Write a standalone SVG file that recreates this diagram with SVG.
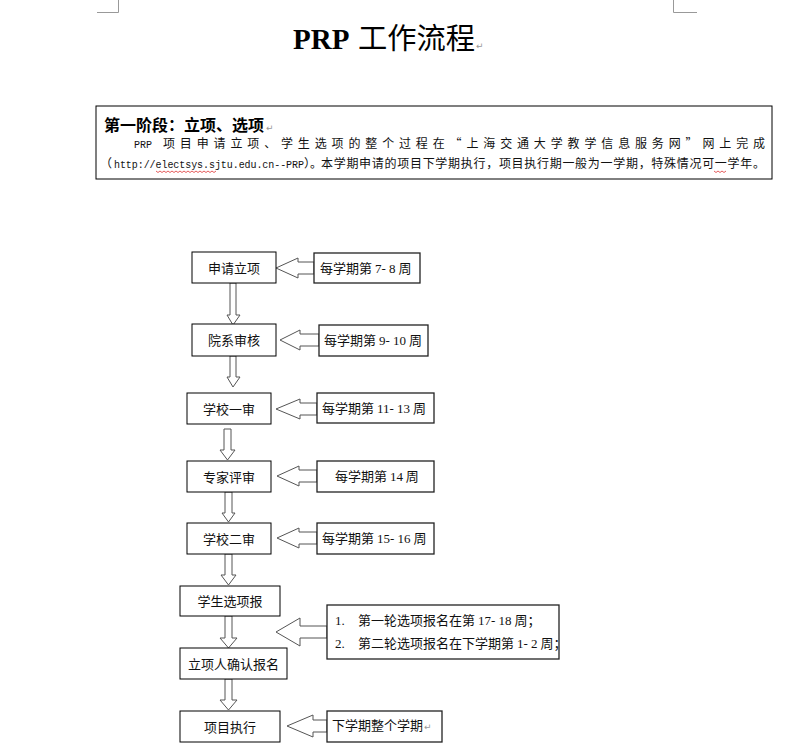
<svg xmlns="http://www.w3.org/2000/svg" width="794" height="753" viewBox="0 0 794 753">
<style>
.box{fill:#fff;stroke:#000;stroke-width:1}
.cbox{fill:#fff;stroke:#222;stroke-width:1.3}
.arr{fill:#fff;stroke:#555;stroke-width:1;stroke-linejoin:miter}
.t{font-family:"Noto Sans CJK SC","Noto Sans",sans-serif;font-size:13px;fill:#111}
.n{font-family:"Liberation Serif",serif;font-size:13px}
.p{font-family:"Noto Sans CJK SC",sans-serif;font-size:12px;fill:#111}
.m{font-family:"Liberation Mono",monospace;font-size:10px;fill:#111}
.pm{font-family:"DejaVu Sans",sans-serif;font-size:9px;fill:#999}
.crop{fill:none;stroke:#999;stroke-width:1}
.wave{fill:none;stroke:#d33;stroke-width:0.8}
</style>
<rect width="794" height="753" fill="#fff"/>
<path class="crop" d="M97,12.5 H118.5 V0"/>
<path class="crop" d="M673.5,0 V12.5 H697"/>

<g id="title">
<text x="293" y="49" style="font-family:'Liberation Serif',serif;font-size:29px;font-weight:bold;fill:#000">PRP</text>
<text x="358" y="49" textLength="117" lengthAdjust="spacingAndGlyphs" style="font-family:'Noto Sans CJK SC',sans-serif;font-size:29px;fill:#000">工作流程</text>
<text class="pm" x="476" y="49">↵</text>
</g>

<g id="intro">
<rect x="96" y="106" width="676" height="73" fill="#fff" stroke="#000" stroke-width="1"/>
<text x="104" y="131" style="font-family:'Noto Sans CJK SC',sans-serif;font-size:16px;font-weight:bold;fill:#000">第一阶段：立项、选项</text>
<text class="pm" x="266" y="131">↵</text>
<text class="m" x="134" y="148">PRP</text>
<text class="p" x="163" y="148" textLength="602" lengthAdjust="spacing">项目申请立项、学生选项的整个过程在“上海交通大学教学信息服务网”网上完成</text>
<text class="p" x="100" y="168">（</text>
<text class="m" x="114" y="168" textLength="190" lengthAdjust="spacing">http://electsys.sjtu.edu.cn--PRP</text>
<text class="p" x="304" y="168">）。</text>
<text class="p" x="321" y="168" textLength="444" lengthAdjust="spacing">本学期申请的项目下学期执行，项目执行期一般为一学期，特殊情况可一学年。</text>
<path class="wave" d="M156,171 l2,1.5 l2,-1.5 l2,1.5 l2,-1.5 l2,1.5 l2,-1.5 l2,1.5 l2,-1.5 l2,1.5 l2,-1.5 l2,1.5 l2,-1.5 l2,1.5 l2,-1.5 l2,1.5 l2,-1.5 l2,1.5 l2,-1.5 l2,1.5 l2,-1.5 l2,1.5 l2,-1.5 l2,1.5 l2,-1.5 l2,1.5 l2,-1.5 l2,1.5 l2,-1.5 l2,1.5 l2,-1.5"/>
<path class="wave" d="M714,171 l2,1.5 l2,-1.5 l2,1.5 l2,-1.5 l2,1.5 l2,-1.5"/>
</g>

<g id="connectors">
<path class="arr" d="M230,283 V315 H227 L233,325 L240,315 H236 V283 Z"/>
<path class="arr" d="M230,356 V377 H227 L233,387 L240,377 H236 V356 Z"/>
<path class="arr" d="M224,429 V450 H220 L227.5,460 L235,450 H231 V429 Z"/>
<path class="arr" d="M225,492 V513 H222 L228.5,522 L235,513 H232 V492 Z"/>
<path class="arr" d="M225,554 V575 H221 L228.5,585 L236,575 H232 V554 Z"/>
<path class="arr" d="M225,616 V638 H220 L228.5,648 L237,638 H232 V616 Z"/>
<path class="arr" d="M225,679 V700 H220 L228.5,710 L237,700 H232 V679 Z"/>

<path class="arr" d="M276,268 L298,258 V262 H314 V274 H298 V278 Z"/>
<path class="arr" d="M280,340 L300,330 V334 H319 V346 H300 V350 Z"/>
<path class="arr" d="M276,409 L300,399 V403 H317 V415 H300 V419 Z"/>
<path class="arr" d="M277,476 L299,466 V470 H317 V482 H299 V486 Z"/>
<path class="arr" d="M277,538 L299,528 V532 H317 V544 H299 V548 Z"/>
<path class="arr" d="M276,632 L300,618 V626 H327 V638 H300 V646 Z"/>
<path class="arr" d="M287,726 L313,715 V720 H327 V732 H313 V737 Z"/>
</g>

<g id="n1"><rect class="box" x="192" y="252" width="84" height="31"/><text class="t" x="234" y="273" text-anchor="middle">申请立项</text></g>
<g id="n2"><rect class="box" x="192" y="324" width="84" height="32"/><text class="t" x="234" y="345" text-anchor="middle">院系审核</text></g>
<g id="n3"><rect class="box" x="187" y="393" width="84" height="31"/><text class="t" x="229" y="414" text-anchor="middle">学校一审</text></g>
<g id="n4"><rect class="box" x="187" y="461" width="84" height="31"/><text class="t" x="229" y="482" text-anchor="middle">专家评审</text></g>
<g id="n5"><rect class="box" x="187" y="523" width="84" height="31"/><text class="t" x="229" y="544" text-anchor="middle">学校二审</text></g>
<g id="n6"><rect class="box" x="180" y="586" width="100" height="30"/><text class="t" x="230" y="606" text-anchor="middle">学生选项报</text></g>
<g id="n7"><rect class="box" x="180" y="648" width="107" height="31"/><text class="t" x="233.5" y="669" text-anchor="middle">立项人确认报名</text></g>
<g id="n8"><rect class="box" x="180" y="711" width="100" height="31"/><text class="t" x="230" y="732" text-anchor="middle">项目执行</text></g>

<g id="c1"><rect class="cbox" x="314" y="253" width="106" height="30"/><text class="t" x="320" y="273">每学期第 <tspan class="n">7- 8</tspan> 周</text></g>
<g id="c2"><rect class="cbox" x="319" y="325" width="109" height="31"/><text class="t" x="324" y="345">每学期第 <tspan class="n">9- 10</tspan> 周</text></g>
<g id="c3"><rect class="cbox" x="317" y="393" width="117" height="30"/><text class="t" x="322" y="413">每学期第 <tspan class="n">11- 13</tspan> 周</text></g>
<g id="c4"><rect class="cbox" x="317" y="461" width="117" height="31"/><text class="t" x="335" y="481">每学期第 <tspan class="n">14</tspan> 周</text></g>
<g id="c5"><rect class="cbox" x="317" y="523" width="117" height="31"/><text class="t" x="322" y="543">每学期第 <tspan class="n">15- 16</tspan> 周</text></g>
<g id="c6"><rect class="cbox" x="327" y="605" width="232" height="54"/>
<text class="t" x="335" y="625"><tspan class="n">1.</tspan><tspan x="358">第一轮选项报名在第 </tspan><tspan class="n">17- 18</tspan> 周；</text>
<text class="t" x="335" y="648"><tspan class="n">2.</tspan><tspan x="358">第二轮选项报名在下学期第 </tspan><tspan class="n">1- 2</tspan> 周；</text></g>
<g id="c7"><rect class="cbox" x="327" y="711" width="115" height="31"/><text class="t" x="332" y="730">下学期整个学期</text><text class="pm" x="424" y="730">↵</text></g>
</svg>
